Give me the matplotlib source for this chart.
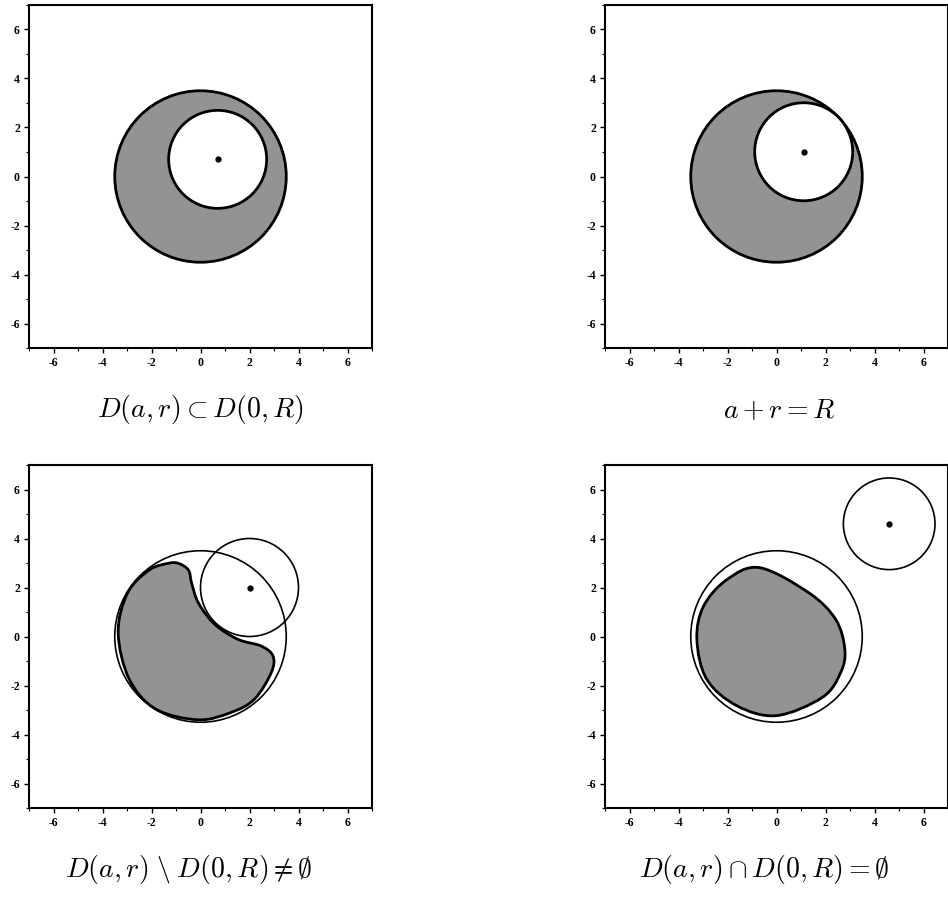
import numpy as np
import matplotlib
matplotlib.use("Agg")
import matplotlib.pyplot as plt
from matplotlib.patches import Circle, PathPatch
from matplotlib.path import Path
from matplotlib.ticker import MultipleLocator

plt.rcParams['mathtext.fontset'] = 'cm'
plt.rcParams['axes.unicode_minus'] = False

# disc parameters
R_big = 3.5
centers = [(0.7, 0.7), (1.11, 1.01), (2.0, 2.0), (4.6, 4.6)]
radii = [2.0, 2.0, 2.0, 1.87]
titles = [r'$D(a,r)\subset D(0,R)$',
          r'$a+r=R$',
          r'$D(a,r)\;\backslash\; D(0,R)\neq\emptyset$',
          r'$D(a,r)\cap D(0,R)=\emptyset$']

# outline of the shaded region in panel 3 and panel 4
blob3_x = [-0.89, -0.49, -0.36, -0.08, 0.59, 1.54, 2.48, 2.96, 2.89, 2.21,
           1.27, -0.08, -1.83, -2.91, -3.36, -2.98, -2.10, -1.30]
blob3_y = [2.98, 2.71, 2.17, 1.36, 0.49, -0.12, -0.39, -0.80, -1.47, -2.55,
           -3.09, -3.40, -2.96, -1.74, 0.15, 1.77, 2.71, 2.99]
blob4_x = [-0.69, 1.34, 2.42, 2.79, 2.62, 1.88, 0.0, -1.63, -2.85, -3.25,
           -2.98, -2.04]
blob4_y = [2.81, 1.77, 0.69, -0.53, -1.47, -2.48, -3.23, -2.82, -1.74, -0.12,
           1.23, 2.31]

tick_vals = [-6, -4, -2, 0, 2, 4, 6]
gray = '#939393'


def smooth_closed_path(xs, ys):
    # closed cubic bezier path through the given points
    p = np.column_stack([xs, ys])
    n = len(p)
    verts = [p[0]]
    codes = [Path.MOVETO]
    for i in range(n):
        p0, p1, p2, p3 = p[i - 1], p[i], p[(i + 1) % n], p[(i + 2) % n]
        verts += [p1 + (p2 - p0) / 6.0, p2 - (p3 - p1) / 6.0, p2]
        codes += [Path.CURVE4] * 3
    verts.append(p[0])
    codes.append(Path.CLOSEPOLY)
    return Path(verts, codes)


def style_axes(ax):
    ax.set_xlim(-7, 7)
    ax.set_ylim(-7, 7)
    ax.set_xticks(tick_vals)
    ax.set_yticks(tick_vals)
    ax.xaxis.set_minor_locator(MultipleLocator(1))
    ax.yaxis.set_minor_locator(MultipleLocator(1))
    ax.tick_params(which='major', direction='out', length=3.5, width=1.0,
                   labelsize=8.5, pad=3)
    ax.tick_params(which='minor', direction='out', length=2, width=0.8)
    for lab in ax.get_xticklabels() + ax.get_yticklabels():
        lab.set_fontfamily('Liberation Serif')
        lab.set_fontweight('bold')
    for sp in ax.spines.values():
        sp.set_linewidth(1.5)


fig = plt.figure(figsize=(9.48, 8.99), dpi=100)
W, H = 948.0, 899.0
boxes = [(29, 5), (605, 5), (29, 465), (605, 465)]
size = 343.0

axes = []
for (px, py) in boxes:
    ax = fig.add_axes([px / W, 1 - (py + size) / H, size / W, size / H])
    style_axes(ax)
    axes.append(ax)

# panel 1 and 2: shaded big disc with the small disc cut out
for k in (0, 1):
    ax = axes[k]
    ax.add_patch(Circle((0, 0), R_big, facecolor=gray, edgecolor='black', lw=2.0))
    ax.add_patch(Circle(centers[k], radii[k], facecolor='white', edgecolor='black', lw=2.0))
    ax.plot(*centers[k], 'o', color='black', ms=3.5)

# panel 3 and 4: shaded region, outline of D(0,R) and D(a,r)
for k, (bx, by) in ((2, (blob3_x, blob3_y)), (3, (blob4_x, blob4_y))):
    ax = axes[k]
    ax.add_patch(PathPatch(smooth_closed_path(bx, by), facecolor=gray,
                           edgecolor='black', lw=2.0))
    ax.add_patch(Circle((0, 0), R_big, fill=False, edgecolor='black', lw=1.2))
    ax.add_patch(Circle(centers[k], radii[k], fill=False, edgecolor='black', lw=1.2))
    ax.plot(*centers[k], 'o', color='black', ms=3.5)

title_y = [410, 410, 870, 870]
title_dx = [0, 3, -12, -12]
for k, ax in enumerate(axes):
    cx = (boxes[k][0] + size / 2 + title_dx[k]) / W
    fig.text(cx, 1 - title_y[k] / H, titles[k], ha='center', va='center', fontsize=20)

fig.savefig('out.png', dpi=100)
